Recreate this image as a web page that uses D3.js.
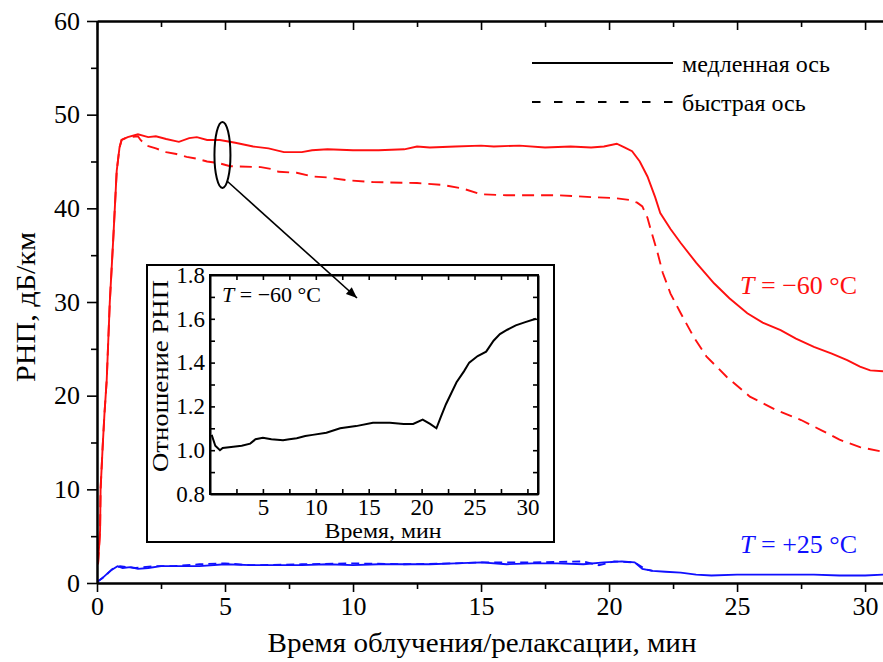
<!DOCTYPE html>
<html>
<head>
<meta charset="utf-8">
<script src="https://cdn.jsdelivr.net/npm/d3@7"></script>
<style>
  body { margin: 0; background: #fff; }
  svg, svg text { font-family: "Liberation Serif", "Times New Roman", serif; }
</style>
</head>
<body>
<div id="chart"></div>
<script>
const WIDTH = 883;
const HEIGHT = 662;

// main plot: [time, min ; loss, dB/km]
const redSlow = [[0.04,2],[0.12,5.6],[0.14,10],[0.22,14.5],[0.29,18],[0.38,21.7],[0.5,30],[0.64,37],[0.77,44],[0.88,46.5],[0.96,47.3],
  [1.2,47.6],[1.6,47.9],[2.0,47.6],[2.3,47.7],[2.7,47.4],[3.2,47.1],[3.6,47.5],[3.9,47.6],[4.3,47.3],[4.8,47.3],[5.4,47.0],
  [6.1,46.6],[6.7,46.4],[7.3,46.0],[8.0,46.0],[8.4,46.2],[9.0,46.3],[10,46.2],[11,46.2],[12,46.3],[12.5,46.6],[13,46.5],
  [14,46.6],[15,46.7],[15.5,46.6],[16.5,46.7],[17.5,46.5],[18.5,46.6],[19.3,46.5],[19.8,46.6],[20.3,46.9],[20.6,46.5],
  [20.9,46.1],[21.2,45.0],[21.5,43.4],[21.8,41.2],[22.0,39.5],[22.4,37.8],[22.8,36.3],[23.4,34.2],[24.1,32.0],[24.7,30.4],
  [25.4,28.8],[26.0,27.8],[26.7,27.0],[27.3,26.1],[28.0,25.2],[28.7,24.5],[29.3,23.8],[29.8,23.1],[30.2,22.7],[30.7,22.6]];

const redFast = [[0.04,2],[0.12,5.6],[0.14,10],[0.22,14.5],[0.29,18],[0.38,21.7],[0.5,30],[0.64,37],[0.77,44],[0.88,46.5],[0.96,47.3],
  [1.2,47.6],[1.6,47.7],[1.7,47.3],[1.94,46.7],[2.3,46.4],[2.7,46.0],[3.1,45.8],[3.5,45.5],[3.9,45.3],[4.3,45.0],[4.8,44.8],
  [5.2,44.5],[6.4,44.4],[6.8,44.2],[7.1,43.9],[7.8,43.8],[8.4,43.4],[9.0,43.3],[9.75,43.0],[10.8,42.8],[12.5,42.7],
  [13.5,42.5],[14.3,42.1],[15,41.5],[16,41.4],[18,41.4],[19.3,41.2],[20.2,41.1],[20.8,40.9],[21.1,40.6],[21.3,40.2],
  [21.5,39.0],[21.6,38.0],[21.9,35.2],[22.1,33.1],[22.4,30.9],[22.8,28.8],[23.3,26.3],[23.8,24.2],[24.6,22.0],[25.5,19.9],
  [26.5,18.5],[27.5,17.4],[28.3,16.3],[29.0,15.3],[29.8,14.5],[30.7,14.0]];

const blueSlow = [[0,0.1],[0.2,0.5],[0.4,1.0],[0.57,1.4],[0.8,1.8],[1.0,1.6],[1.3,1.7],[1.6,1.5],[2.0,1.6],[2.5,1.8],[3,1.8],
  [4,1.8],[5,2.0],[6,1.9],[7,1.9],[8,1.9],[9,2.0],[10,1.9],[11,2.0],[12,2.0],[13,2.0],[14,2.1],[15,2.2],[16,2.0],[17,2.1],
  [18,2.1],[19,2.0],[19.8,2.2],[20.5,2.3],[21,2.2],[21.3,1.5],[21.7,1.3],[22.2,1.2],[22.8,1.1],[23.4,0.9],[24,0.8],[25,0.9],
  [26,0.9],[27,0.9],[28,0.9],[29,0.8],[30,0.8],[30.7,0.9]];

const blueFast = [[0,0.1],[0.3,0.7],[0.6,1.5],[0.9,1.8],[1.5,1.6],[2.2,1.8],[3,1.8],[4,2.0],[5,2.1],[6,1.9],[8,2.0],[10,2.1],
  [12,2.0],[14,2.1],[15,2.2],[17,2.2],[19,2.3],[19.6,1.9],[20.2,2.3],[21,2.2],[21.4,1.5],[21.7,1.3]];

// inset: ratio of the two axes at -60 C
const ratioData = [[0.16,1.07],[0.5,1.02],[0.94,1.0],[1.2,1.01],[2.0,1.015],[3.0,1.02],[3.8,1.03],[4.3,1.05],[5.0,1.057],
  [5.8,1.05],[6.9,1.045],[7.5,1.05],[8.2,1.055],[9.0,1.065],[9.7,1.07],[11,1.08],[12.3,1.10],[13.8,1.11],[15.4,1.125],
  [17,1.125],[18.3,1.12],[19.2,1.12],[20.1,1.14],[20.8,1.12],[21.4,1.10],[21.8,1.15],[22.3,1.21],[22.8,1.26],[23.3,1.31],
  [24.0,1.36],[24.5,1.40],[25.3,1.43],[26.1,1.45],[26.8,1.50],[27.4,1.53],[28.1,1.55],[28.9,1.57],[29.8,1.585],[30.8,1.60]];

const mainXTicks = [0, 5, 10, 15, 20, 25, 30];
const mainYTicks = [0, 10, 20, 30, 40, 50, 60];
const insetXTicks = [5, 10, 15, 20, 25, 30];
const insetYTicks = [0.8, 1.0, 1.2, 1.4, 1.6, 1.8];
const legendLabels = ["медленная ось", "быстрая ось"];

const RED = "#ff1010";
const BLUE = "#1010ff";

const svg = d3.select("#chart").append("svg")
  .attr("width", WIDTH).attr("height", HEIGHT);
const defs = svg.append("defs");

// ---------------- MAIN PLOT ----------------
const x = d3.scaleLinear().domain([0, 30.7]).range([97, 883]);
const y = d3.scaleLinear().domain([0, 60]).range([583, 21]);

defs.append("clipPath").attr("id", "mainclip")
  .append("rect").attr("x", 97).attr("y", 21).attr("width", 786).attr("height", 562);

const line = d3.line().x(d => x(d[0])).y(d => y(d[1]));

const curves = svg.append("g").attr("clip-path", "url(#mainclip)");
curves.append("path").datum(blueFast).attr("d", line)
  .attr("fill", "none").attr("stroke", BLUE).attr("stroke-width", 1.8).attr("stroke-dasharray", "8,5");
curves.append("path").datum(blueSlow).attr("d", line)
  .attr("fill", "none").attr("stroke", BLUE).attr("stroke-width", 1.8);
curves.append("path").datum(redFast).attr("d", line)
  .attr("fill", "none").attr("stroke", RED).attr("stroke-width", 1.9).attr("stroke-dasharray", "12,7");
curves.append("path").datum(redSlow).attr("d", line)
  .attr("fill", "none").attr("stroke", RED).attr("stroke-width", 1.9);

// d3 axes put a sans-serif font on their group, drop it so the serif one is used
function styleAxis(g) {
  g.attr("font-family", null);
  g.select(".domain").attr("stroke-width", 2);
  g.selectAll(".tick line").attr("stroke-width", 1.6);
}

// bottom axis
svg.append("g").attr("transform", "translate(0,583)")
  .call(d3.axisBottom(x).tickValues(d3.range(2.5, 31, 5)).tickSize(6).tickFormat("").tickSizeOuter(0))
  .call(styleAxis);
svg.append("g").attr("transform", "translate(0,583)")
  .call(d3.axisBottom(x).tickValues(mainXTicks).tickSize(9).tickPadding(5).tickSizeOuter(0))
  .call(styleAxis)
  .selectAll("text").attr("font-size", 26);

// top axis, ticks inward
svg.append("g").attr("transform", "translate(0,21)")
  .call(d3.axisTop(x).tickValues(d3.range(2.5, 31, 5)).tickSize(-6).tickFormat("").tickSizeOuter(0))
  .call(styleAxis);
svg.append("g").attr("transform", "translate(0,21)")
  .call(d3.axisTop(x).tickValues(mainXTicks).tickSize(-9).tickFormat("").tickSizeOuter(0))
  .call(styleAxis);

// left axis
svg.append("g").attr("transform", "translate(97,0)")
  .call(d3.axisLeft(y).tickValues(d3.range(5, 60, 10)).tickSize(6).tickFormat("").tickSizeOuter(0))
  .call(styleAxis);
svg.append("g").attr("transform", "translate(97,0)")
  .call(d3.axisLeft(y).tickValues(mainYTicks).tickSize(10).tickPadding(7).tickSizeOuter(0))
  .call(styleAxis)
  .selectAll("text").attr("font-size", 26);

svg.append("text")
  .attr("transform", "translate(35,307) rotate(-90)")
  .attr("text-anchor", "middle").attr("font-size", 28)
  .attr("textLength", 150).attr("lengthAdjust", "spacingAndGlyphs")
  .text("РНП, дБ/км");

svg.append("text")
  .attr("x", 482).attr("y", 652)
  .attr("text-anchor", "middle").attr("font-size", 27)
  .attr("textLength", 429).attr("lengthAdjust", "spacingAndGlyphs")
  .text("Время облучения/релаксации, мин");

// legend
const legend = svg.append("g");
legendLabels.forEach((lab, i) => {
  const ly = 63 + i * 39;
  legend.append("line").attr("x1", 532).attr("x2", 673).attr("y1", ly).attr("y2", ly)
    .attr("stroke", "#000").attr("stroke-width", 2)
    .attr("stroke-dasharray", i === 1 ? "8.5,13.5" : null);
  legend.append("text").attr("x", 682).attr("y", ly + 9).attr("font-size", 24).text(lab);
});

// temperature labels
const t60 = svg.append("text").attr("x", 740).attr("y", 294).attr("font-size", 26).attr("fill", RED);
t60.append("tspan").attr("font-style", "italic").text("T");
t60.append("tspan").text(" = \u221260 \u00b0C");

const t25 = svg.append("text").attr("x", 740).attr("y", 553).attr("font-size", 26).attr("fill", BLUE);
t25.append("tspan").attr("font-style", "italic").text("T");
t25.append("tspan").text(" = +25 \u00b0C");

// ellipse round the region the inset is about
svg.append("ellipse").attr("cx", x(4.9)).attr("cy", y(45.7)).attr("rx", 8).attr("ry", 33)
  .attr("fill", "none").attr("stroke", "#000").attr("stroke-width", 2);

// ---------------- INSET ----------------
const inset = svg.append("g");
inset.append("rect").attr("x", 147).attr("y", 265).attr("width", 407).attr("height", 277)
  .attr("fill", "#fff").attr("stroke", "#000").attr("stroke-width", 2);

const ix = d3.scaleLinear().domain([0, 31]).range([210, 538]);
const iy = d3.scaleLinear().domain([0.8, 1.8]).range([494, 275]);

inset.append("rect").attr("x", 210).attr("y", 275).attr("width", 328).attr("height", 219)
  .attr("fill", "none").attr("stroke", "#000").attr("stroke-width", 2);

// inward ticks on all four sides
inset.append("g").attr("transform", "translate(0,494)")
  .call(d3.axisBottom(ix).tickValues(d3.range(2.5, 31, 2.5)).tickSize(-5).tickFormat("").tickSizeOuter(0))
  .call(styleAxis);
inset.append("g").attr("transform", "translate(0,494)")
  .call(d3.axisBottom(ix).tickValues(insetXTicks).tickSize(0).tickPadding(5).tickSizeOuter(0))
  .call(styleAxis)
  .call(g => g.select(".domain").remove())
  .selectAll("text").attr("font-size", 23);
inset.append("g").attr("transform", "translate(0,275)")
  .call(d3.axisTop(ix).tickValues(d3.range(2.5, 31, 2.5)).tickSize(-5).tickFormat("").tickSizeOuter(0))
  .call(styleAxis);
inset.append("g").attr("transform", "translate(210,0)")
  .call(d3.axisLeft(iy).tickValues(d3.range(0.9, 1.8, 0.1)).tickSize(-5).tickFormat("").tickSizeOuter(0))
  .call(styleAxis);
inset.append("g").attr("transform", "translate(210,0)")
  .call(d3.axisLeft(iy).tickValues(insetYTicks).tickSize(0).tickPadding(5).tickFormat(d3.format(".1f")).tickSizeOuter(0))
  .call(styleAxis)
  .call(g => g.select(".domain").remove())
  .selectAll("text").attr("font-size", 23);
inset.append("g").attr("transform", "translate(538,0)")
  .call(d3.axisRight(iy).tickValues(d3.range(0.9, 1.8, 0.1)).tickSize(-5).tickFormat("").tickSizeOuter(0))
  .call(styleAxis);

const iline = d3.line().x(d => ix(d[0])).y(d => iy(d[1]));
inset.append("path").datum(ratioData).attr("d", iline)
  .attr("fill", "none").attr("stroke", "#000").attr("stroke-width", 2);

inset.append("text").attr("transform", "translate(168,376) rotate(-90)")
  .attr("text-anchor", "middle").attr("font-size", 24)
  .attr("textLength", 192).attr("lengthAdjust", "spacingAndGlyphs")
  .text("Отношение РНП");
inset.append("text").attr("x", 383).attr("y", 538)
  .attr("text-anchor", "middle").attr("font-size", 22)
  .attr("textLength", 117).attr("lengthAdjust", "spacingAndGlyphs")
  .text("Время, мин");

const it = inset.append("text").attr("x", 222).attr("y", 302).attr("font-size", 22);
it.append("tspan").attr("font-style", "italic").text("T");
it.append("tspan").text(" = \u221260 \u00b0C");

// arrow from the ellipse into the inset
defs.append("marker").attr("id", "arrow")
  .attr("viewBox", "0 0 10 10").attr("refX", 10).attr("refY", 5)
  .attr("markerWidth", 13).attr("markerHeight", 11).attr("orient", "auto")
  .attr("markerUnits", "userSpaceOnUse")
  .append("path").attr("d", "M0,1 L10,5 L0,9 Z").attr("fill", "#000");

svg.append("line").attr("x1", 227).attr("y1", 181).attr("x2", 357).attr("y2", 298)
  .attr("stroke", "#000").attr("stroke-width", 1.6).attr("marker-end", "url(#arrow)");
</script>
</body>
</html>
